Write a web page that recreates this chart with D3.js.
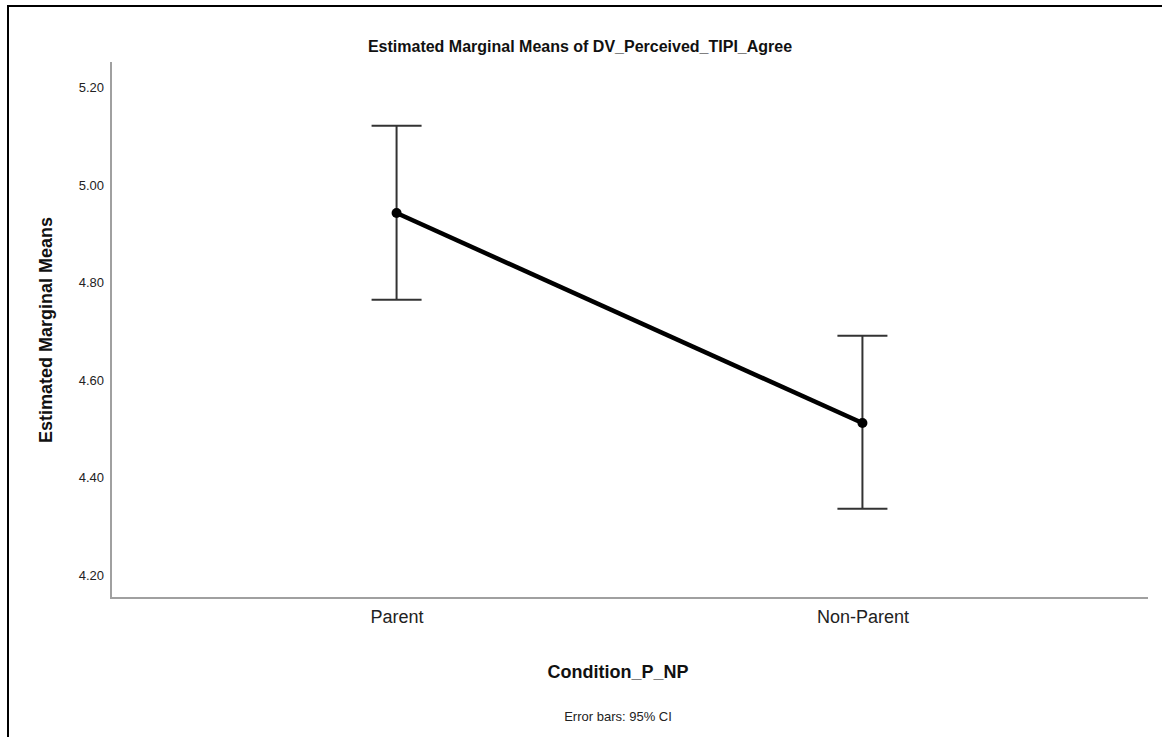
<!DOCTYPE html>
<html>
<head>
<meta charset="utf-8">
<script src="https://cdn.jsdelivr.net/npm/d3@7"></script>
<style>
  body { margin: 0; background: #fff; }
  text { font-family: "Liberation Sans", Arial, sans-serif; }
</style>
</head>
<body>
<div id="target"></div>
<script>
const categories = ["Parent", "Non-Parent"];
const means = [4.943, 4.512];
const ciLower = [4.765, 4.336];
const ciUpper = [5.122, 4.691];
const yTicks = [4.20, 4.40, 4.60, 4.80, 5.00, 5.20];

function chart() {
  const width = 1162,
    height = 737,
    left = 111,
    right = 1148,
    top = 62,
    bottom = 598;

  let svg = d3.select("#target").append("svg")
    .attr("width", width)
    .attr("height", height);

  // frame (top + left edge only)
  svg.append("path")
    .attr("d", `M8,${height} L8,6 L${width},6`)
    .attr("fill", "none")
    .attr("stroke", "#000")
    .attr("stroke-width", 2);

  let x = d3.scalePoint()
    .domain(categories)
    .range([left, right])
    .padding(0.613);
  let y = d3.scaleLinear()
    .domain([4.153, 5.253])
    .range([bottom, top]);

  // axes
  let yAxis = d3.axisLeft(y)
    .tickValues(yTicks)
    .tickSize(0)
    .tickPadding(7)
    .tickFormat(d3.format(".2f"));
  let gy = svg.append("g")
    .attr("transform", `translate(${left},0)`)
    .call(yAxis);
  gy.select(".domain").remove();
  gy.selectAll("text")
    .attr("font-size", 13)
    .attr("fill", "#222");

  let xAxis = d3.axisBottom(x)
    .tickSize(0)
    .tickPadding(12);
  let gx = svg.append("g")
    .attr("transform", `translate(0,${bottom})`)
    .call(xAxis);
  gx.select(".domain").remove();
  gx.selectAll("text")
    .attr("font-size", 18)
    .attr("fill", "#222");

  svg.append("path")
    .attr("d", `M${left},${top} L${left},${bottom} L${right},${bottom}`)
    .attr("fill", "none")
    .attr("stroke", "#a0a0a0")
    .attr("stroke-width", 2);

  // error bars
  let eb = svg.selectAll(".eb")
    .data(categories)
    .enter().append("g")
    .attr("class", "eb")
    .attr("stroke", "#333")
    .attr("stroke-width", 2);
  eb.append("line")
    .attr("x1", (d) => x(d))
    .attr("x2", (d) => x(d))
    .attr("y1", (d, i) => y(ciUpper[i]))
    .attr("y2", (d, i) => y(ciLower[i]));
  eb.append("line")
    .attr("x1", (d) => x(d) - 25)
    .attr("x2", (d) => x(d) + 25)
    .attr("y1", (d, i) => y(ciUpper[i]))
    .attr("y2", (d, i) => y(ciUpper[i]));
  eb.append("line")
    .attr("x1", (d) => x(d) - 25)
    .attr("x2", (d) => x(d) + 25)
    .attr("y1", (d, i) => y(ciLower[i]))
    .attr("y2", (d, i) => y(ciLower[i]));

  // means line
  let line = d3.line()
    .x((d, i) => x(categories[i]))
    .y((d) => y(d));
  svg.append("path")
    .datum(means)
    .attr("d", line)
    .attr("fill", "none")
    .attr("stroke", "#000")
    .attr("stroke-width", 4.5);
  svg.selectAll(".dot")
    .data(means)
    .enter().append("circle")
    .attr("class", "dot")
    .attr("cx", (d, i) => x(categories[i]))
    .attr("cy", (d) => y(d))
    .attr("r", 5)
    .attr("fill", "#000");

  // titles
  svg.append("text")
    .attr("x", 580)
    .attr("y", 52)
    .attr("text-anchor", "middle")
    .attr("font-size", 16)
    .attr("font-weight", "bold")
    .attr("fill", "#111")
    .text("Estimated Marginal Means of DV_Perceived_TIPI_Agree");
  svg.append("text")
    .attr("transform", `translate(52,${(top + bottom) / 2}) rotate(-90)`)
    .attr("text-anchor", "middle")
    .attr("font-size", 18)
    .attr("font-weight", "bold")
    .attr("fill", "#111")
    .text("Estimated Marginal Means");
  svg.append("text")
    .attr("x", 618)
    .attr("y", 678)
    .attr("text-anchor", "middle")
    .attr("font-size", 18)
    .attr("font-weight", "bold")
    .attr("fill", "#111")
    .text("Condition_P_NP");
  svg.append("text")
    .attr("x", 618)
    .attr("y", 721)
    .attr("text-anchor", "middle")
    .attr("font-size", 13)
    .attr("fill", "#222")
    .text("Error bars: 95% CI");
}
chart();
</script>
</body>
</html>
